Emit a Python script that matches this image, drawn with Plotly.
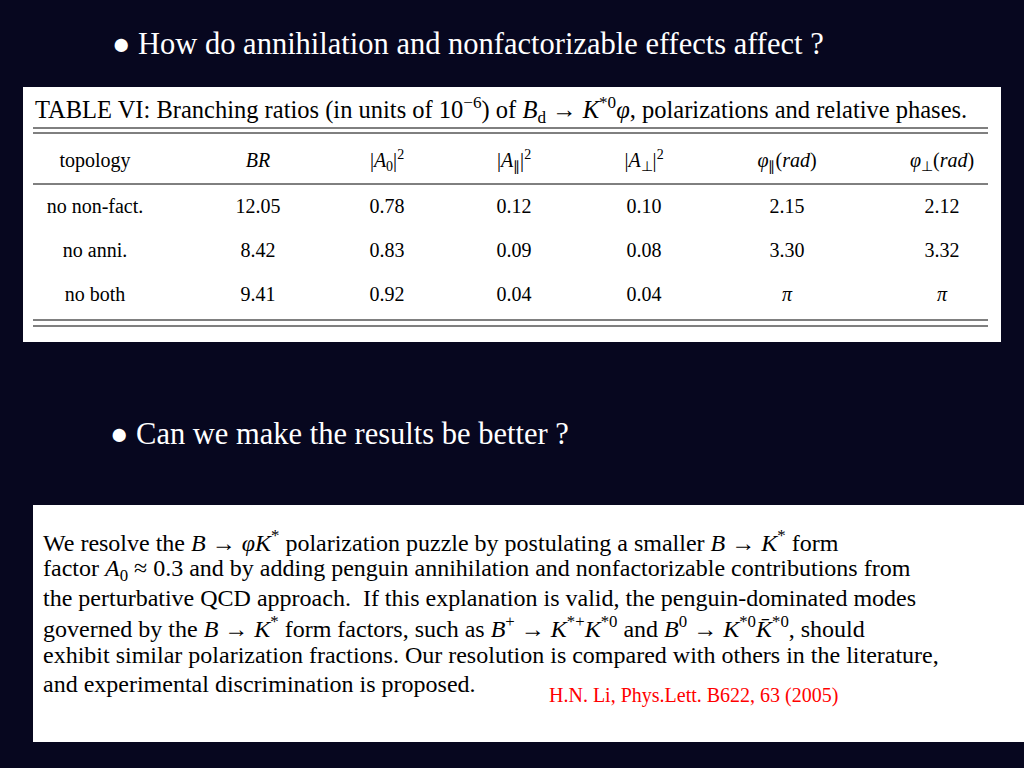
import plotly.graph_objects as go

# table data
columns = ["topology", "<i>BR</i>", "|<i>A</i><sub>0</sub>|<sup>2</sup>", "|<i>A</i><sub>∥</sub>|<sup>2</sup>",
           "|<i>A</i><sub>⊥</sub>|<sup>2</sup>", "<i>φ</i><sub>∥</sub>(<i>rad</i>)", "<i>φ</i><sub>⊥</sub>(<i>rad</i>)"]
topology = ["no non-fact.", "no anni.", "no both"]
br = ["12.05", "8.42", "9.41"]
a0 = ["0.78", "0.83", "0.92"]
a_par = ["0.12", "0.09", "0.04"]
a_perp = ["0.10", "0.08", "0.04"]
phi_par = ["2.15", "3.30", "<i>π</i>"]
phi_perp = ["2.12", "3.32", "<i>π</i>"]

abstract = [
    "We resolve the <i>B</i> → <i>φK</i><sup>*</sup> polarization puzzle by postulating a smaller <i>B</i> → <i>K</i><sup>*</sup> form",
    "factor <i>A</i><sub>0</sub> ≈ 0.3 and by adding penguin annihilation and nonfactorizable contributions from",
    "the perturbative QCD approach.  If this explanation is valid, the penguin-dominated modes",
    "governed by the <i>B</i> → <i>K</i><sup>*</sup> form factors, such as <i>B</i><sup>+</sup> → <i>K</i><sup>*+</sup><i>K</i><sup>*0</sup> and <i>B</i><sup>0</sup> → <i>K</i><sup>*0</sup><i>K̄</i><sup>*0</sup>, should",
    "exhibit similar polarization fractions. Our resolution is compared with others in the literature,",
    "and experimental discrimination is proposed.",
]

bg = "#07071f"
serif = "Liberation Serif"
col_x = [95, 258, 387, 514, 644, 787, 942]
row_y = [208, 252, 296]

fig = go.Figure()
shapes = [
    dict(type="rect", x0=23, x1=1001, y0=87, y1=342, fillcolor="white", line_width=0, layer="below"),
    dict(type="rect", x0=33, x1=1024, y0=505, y1=742, fillcolor="white", line_width=0, layer="below"),
]
for y in [128, 133, 184, 320, 326]:
    shapes.append(dict(type="line", x0=33, x1=988, y0=y, y1=y, line=dict(color="black", width=1)))

rows = [topology, br, a0, a_par, a_perp, phi_par, phi_perp]
for i, col in enumerate(rows):
    fig.add_trace(go.Scatter(x=[col_x[i]] * (len(col) + 1), y=[162] + row_y, text=[columns[i]] + col,
                             mode="text", textfont=dict(family=serif, size=20, color="black"),
                             hoverinfo="skip", showlegend=False))

ann = []
ann.append(dict(x=33, y=110, xanchor="left", text="TABLE VI: Branching ratios (in units of 10<sup>−6</sup>) of <i>B</i><sub>d</sub> → <i>K</i><sup>*0</sup><i>φ</i>, polarizations and relative phases.",
                font=dict(family=serif, size=24.5, color="black")))
for j, line in enumerate(abstract):
    ann.append(dict(x=41, y=541 + j * 28.6, xanchor="left", text=line, font=dict(family=serif, size=24, color="black")))
ann.append(dict(x=110, y=44, xanchor="left", text="● How do annihilation and nonfactorizable effects affect ?",
                font=dict(family=serif, size=30.5, color="white")))
ann.append(dict(x=108, y=434, xanchor="left", text="● Can we make the results be better ?",
                font=dict(family=serif, size=30.5, color="white")))
ann.append(dict(x=547, y=695, xanchor="left", text="H.N. Li, Phys.Lett. B622, 63 (2005)",
                font=dict(family=serif, size=20, color="red")))
for a in ann:
    a.update(showarrow=False, yanchor="middle")

fig.update_layout(
    width=1024, height=768, margin=dict(l=0, r=0, t=0, b=0),
    paper_bgcolor=bg, plot_bgcolor=bg, shapes=shapes, annotations=ann,
    xaxis=dict(range=[0, 1024], visible=False, fixedrange=True),
    yaxis=dict(range=[768, 0], visible=False, fixedrange=True),
)
fig.write_html("out.html", config={"displayModeBar": False},
               post_script="document.body.style.margin='0';document.body.style.background='%s';" % bg)
